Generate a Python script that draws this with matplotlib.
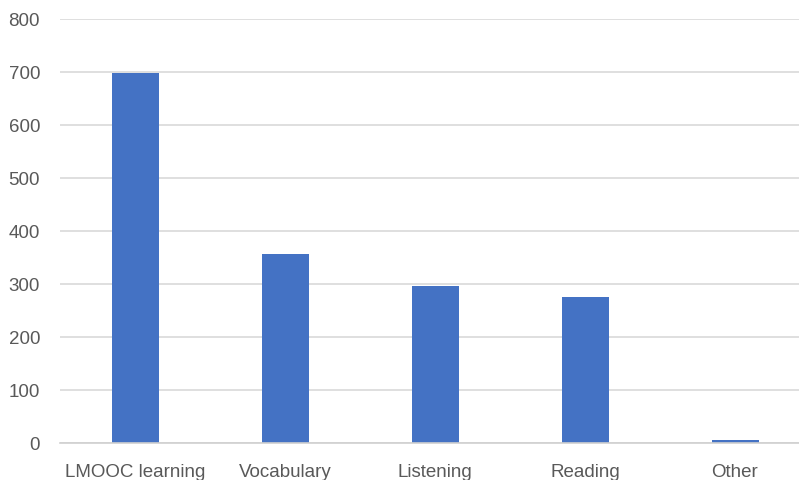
import matplotlib
matplotlib.use("Agg")
import matplotlib.pyplot as plt

categories = ["LMOOC learning", "Vocabulary", "Listening", "Reading", "Other"]
values = [698, 356, 295, 275, 4]
yticks = [0, 100, 200, 300, 400, 500, 600, 700, 800]

W, H = 799, 481
fig = plt.figure(figsize=(W / 100, H / 100), dpi=100)
left, right, bottom, top = 60, 799, 443.5, 20
ax = fig.add_axes([left / W, (H - bottom) / H, (right - left) / W, (bottom - top) / H])

x = list(range(len(categories)))
ax.bar(x, values, width=47 / 150, color="#4472C4", zorder=3)
ax.set_xlim(-0.5, len(categories) - 0.5 - 11 / 150)
ax.set_ylim(0, 800)
ax.set_yticks(yticks)
ax.yaxis.grid(True, color="#d9d9d9", linewidth=1.2, zorder=0)
ax.set_xticks(x)
ax.set_xticklabels(categories)
for s in ["top", "right", "left"]:
    ax.spines[s].set_visible(False)
ax.spines["bottom"].set_color("#d0d0d0")
ax.spines["bottom"].set_linewidth(1.2)
ax.spines["bottom"].set_zorder(4)
ax.tick_params(axis="both", length=0, labelsize=13.5, labelcolor="#595959")
ax.tick_params(axis="y", pad=14.4)
ax.tick_params(axis="x", pad=15)
for lab in ax.get_xticklabels() + ax.get_yticklabels():
    lab.set_family("Liberation Sans")

fig.savefig("out.png", dpi=100)
